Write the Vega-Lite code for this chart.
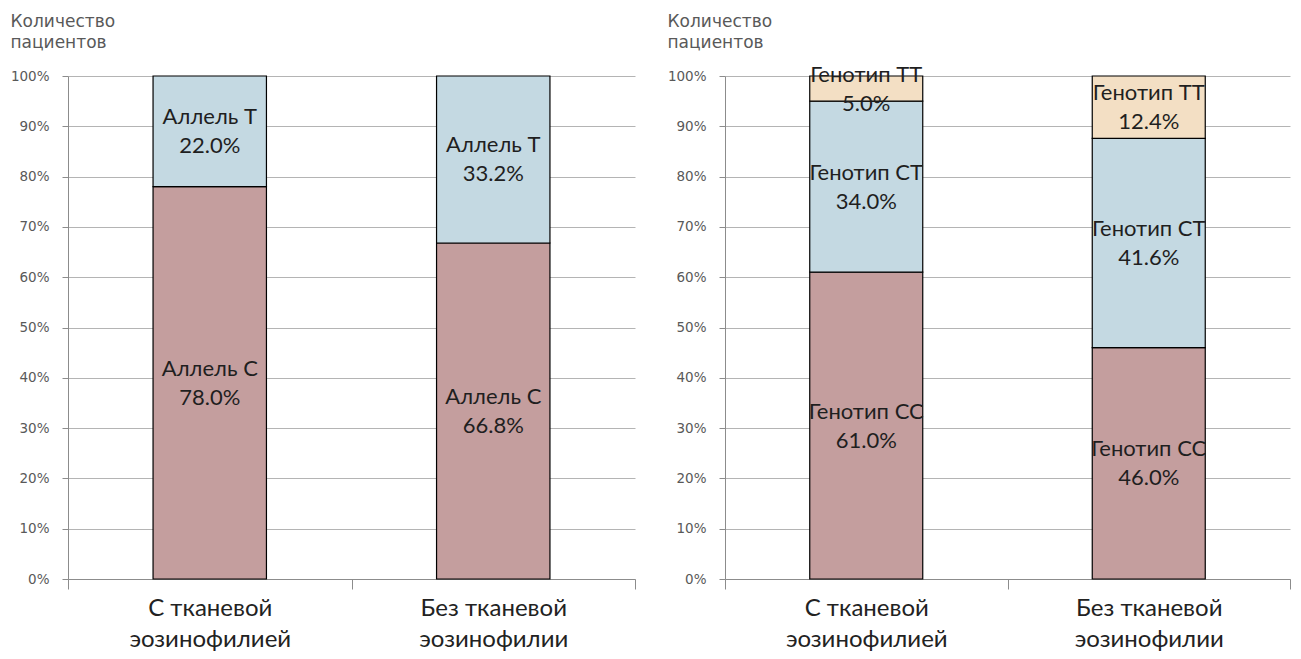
{
  "$schema": "https://vega.github.io/schema/vega-lite/v6.json",
  "background": "white",
  "padding": {"left": 10, "top": 12, "right": 5, "bottom": 0},
  "bounds": "flush",
  "spacing": 90,
  "datasets": {
    "alleles": [
      {"group": "С тканевой эозинофилией", "part": "Аллель С", "value": 78.0},
      {"group": "С тканевой эозинофилией", "part": "Аллель Т", "value": 22.0},
      {"group": "Без тканевой эозинофилии", "part": "Аллель С", "value": 66.8},
      {"group": "Без тканевой эозинофилии", "part": "Аллель Т", "value": 33.2}
    ],
    "genotypes": [
      {"group": "С тканевой эозинофилией", "part": "Генотип СС", "value": 61.0},
      {"group": "С тканевой эозинофилией", "part": "Генотип СТ", "value": 34.0},
      {"group": "С тканевой эозинофилией", "part": "Генотип ТТ", "value": 5.0},
      {"group": "Без тканевой эозинофилии", "part": "Генотип СС", "value": 46.0},
      {"group": "Без тканевой эозинофилии", "part": "Генотип СТ", "value": 41.6},
      {"group": "Без тканевой эозинофилии", "part": "Генотип ТТ", "value": 12.4}
    ]
  },
  "config": {
    "view": {"stroke": null},
    "font": "DejaVu Sans",
    "axisY": {
      "grid": true,
      "gridColor": "#b4b4b4",
      "gridWidth": 1,
      "domainColor": "#8c8c8c",
      "tickColor": "#8c8c8c",
      "tickSize": 6,
      "labelFont": "DejaVu Sans",
      "labelFontSize": 13.5,
      "labelColor": "#595959",
      "labelPadding": 13,
      "values": [0, 10, 20, 30, 40, 50, 60, 70, 80, 90, 100],
      "labelExpr": "datum.value + '%'",
      "titleAngle": 0,
      "titleAlign": "left",
      "titleBaseline": "top",
      "titleX": -58,
      "titleY": -63,
      "titleFont": "DejaVu Sans",
      "titleFontSize": 17,
      "titleFontWeight": "normal",
      "titleColor": "#595959",
      "titleLineHeight": 21
    },
    "axisX": {
      "title": null,
      "labelAngle": 0,
      "labelFontSize": 24,
      "labelLineHeight": 31,
      "labelColor": "#222222",
      "labelPadding": 7,
      "labelFont": "Lato",
      "labelExpr": "split(replace(datum.label, 'тканевой ', 'тканевой|'), '|')",
      "domainColor": "#8c8c8c",
      "tickColor": "#8c8c8c",
      "tickSize": 10,
      "tickBand": "extent"
    }
  },
  "hconcat": [
    {
      "width": 567,
      "height": 503,
      "data": {"name": "alleles"},
      "transform": [
        {"stack": "value", "groupby": ["group"], "sort": [{"field": "part", "order": "ascending"}], "as": ["v0", "v1"]},
        {"calculate": "(datum.v0 + datum.v1) / 2", "as": "mid"},
        {"calculate": "[datum.part, format(datum.value, '.1f') + '%']", "as": "lbl"}
      ],
      "encoding": {
        "x": {
          "field": "group",
          "type": "nominal",
          "sort": ["С тканевой эозинофилией", "Без тканевой эозинофилии"],
          "scale": {"paddingInner": 0, "paddingOuter": 0}
        }
      },
      "layer": [
        {
          "mark": {"type": "bar", "width": {"band": 0.4}, "stroke": "#000000", "strokeWidth": 1.2},
          "encoding": {
            "y": {
              "field": "v0",
              "type": "quantitative",
              "scale": {"domain": [0, 100], "nice": false},
              "axis": {"title": ["Количество", "пациентов"]}
            },
            "y2": {"field": "v1"},
            "fill": {
              "field": "part",
              "type": "nominal",
              "legend": null,
              "scale": {
                "domain": ["Аллель С", "Аллель Т", "Генотип СС", "Генотип СТ", "Генотип ТТ"],
                "range": ["#c49e9e", "#c4d9e2", "#c49e9e", "#c4d9e2", "#f3dfc4"]
              }
            }
          }
        },
        {
          "mark": {"type": "text", "font": "Lato", "fontSize": 22, "lineHeight": 29, "baseline": "middle", "dy": -14, "color": "#1f1f1f"},
          "encoding": {
            "y": {"field": "mid", "type": "quantitative"},
            "text": {"field": "lbl", "type": "nominal"}
          }
        }
      ]
    },
    {
      "width": 565,
      "height": 503,
      "data": {"name": "genotypes"},
      "transform": [
        {"stack": "value", "groupby": ["group"], "sort": [{"field": "part", "order": "ascending"}], "as": ["v0", "v1"]},
        {"calculate": "(datum.v0 + datum.v1) / 2", "as": "mid"},
        {"calculate": "[datum.part, format(datum.value, '.1f') + '%']", "as": "lbl"}
      ],
      "encoding": {
        "x": {
          "field": "group",
          "type": "nominal",
          "sort": ["С тканевой эозинофилией", "Без тканевой эозинофилии"],
          "scale": {"paddingInner": 0, "paddingOuter": 0}
        }
      },
      "layer": [
        {
          "mark": {"type": "bar", "width": {"band": 0.4}, "stroke": "#000000", "strokeWidth": 1.2},
          "encoding": {
            "y": {
              "field": "v0",
              "type": "quantitative",
              "scale": {"domain": [0, 100], "nice": false},
              "axis": {"title": ["Количество", "пациентов"]}
            },
            "y2": {"field": "v1"},
            "fill": {
              "field": "part",
              "type": "nominal",
              "legend": null,
              "scale": {
                "domain": ["Аллель С", "Аллель Т", "Генотип СС", "Генотип СТ", "Генотип ТТ"],
                "range": ["#c49e9e", "#c4d9e2", "#c49e9e", "#c4d9e2", "#f3dfc4"]
              }
            }
          }
        },
        {
          "mark": {"type": "text", "font": "Lato", "fontSize": 22, "lineHeight": 29, "baseline": "middle", "dy": -14, "color": "#1f1f1f"},
          "encoding": {
            "y": {"field": "mid", "type": "quantitative"},
            "text": {"field": "lbl", "type": "nominal"}
          }
        }
      ]
    }
  ]
}
